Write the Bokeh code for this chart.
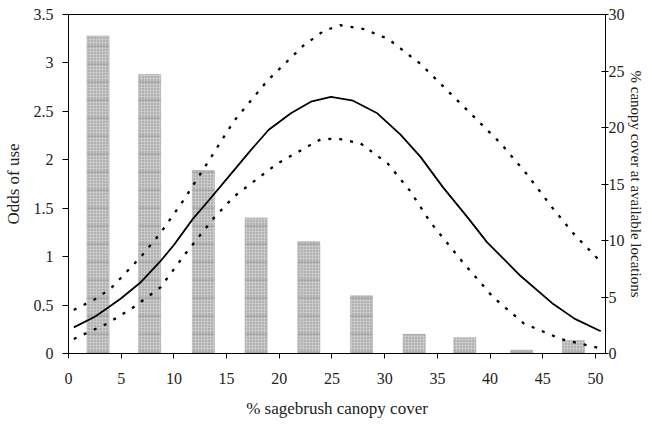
from bokeh.plotting import figure
from bokeh.models import Range1d, LinearAxis, FixedTicker
from bokeh.embed import file_html
from bokeh.resources import INLINE

# ---- data ----
bin_mid = [2.8, 7.7, 12.8, 17.8, 22.8, 27.8, 32.8, 37.6, 43.0, 47.9]
canopy_pct = [28.1, 24.7, 16.2, 12.0, 9.9, 5.1, 1.7, 1.4, 0.3, 1.15]

fit_x = [0.5, 2.5, 3.7, 5.0, 6.8, 8.7, 10.0, 11.8, 13.3, 15.0, 17.3, 19.0, 21.1,
         23.0, 24.9, 27.0, 29.3, 31.5, 33.4, 35.5, 37.9, 39.7, 42.9, 46.0, 48.0, 50.5]
fit_odds = [0.27, 0.38, 0.47, 0.57, 0.73, 0.95, 1.12, 1.39, 1.58, 1.80, 2.10, 2.31, 2.48,
            2.60, 2.65, 2.61, 2.48, 2.26, 2.03, 1.72, 1.40, 1.15, 0.80, 0.51, 0.36, 0.23]

upper_x = [0.5, 2.5, 4.0, 6.8, 8.7, 10.9, 12.9, 15.7, 18.9, 22.3, 24.2, 25.8, 28.0,
           30.3, 33.4, 37.2, 41.0, 43.5, 45.8, 47.9, 50.2]
upper_odds = [0.45, 0.56, 0.67, 0.99, 1.24, 1.58, 1.92, 2.40, 2.82, 3.18, 3.33, 3.39, 3.35,
              3.25, 2.99, 2.58, 2.17, 1.85, 1.52, 1.24, 0.98]

lower_x = [0.5, 3.7, 6.2, 8.7, 11.3, 13.8, 15.7, 19.8, 23.9, 25.5, 27.7, 30.3, 32.4,
           34.3, 37.5, 40.3, 43.2, 46.7, 50.2]
lower_odds = [0.15, 0.31, 0.48, 0.68, 1.06, 1.40, 1.62, 1.96, 2.21, 2.22, 2.17, 1.96, 1.68,
              1.36, 0.93, 0.58, 0.31, 0.15, 0.06]

x_ticks = [0, 5, 10, 15, 20, 25, 30, 35, 40, 45, 50]
odds_ticks = [0, 0.5, 1, 1.5, 2, 2.5, 3, 3.5]
odds_labels = ["0", "0.5", "1", "1.5", "2", "2.5", "3", "3.5"]
pct_ticks = [0, 5, 10, 15, 20, 25, 30]

FONT = "Liberation Serif"

p = figure(width=652, height=428, output_backend="svg", toolbar_location=None,
           x_range=Range1d(0, 50.95), y_range=Range1d(0, 3.5),
           min_border_left=68, min_border_right=47, min_border_top=14, min_border_bottom=75)
p.extra_y_ranges = {"pct": Range1d(0, 30)}
p.xgrid.visible = False
p.ygrid.visible = False
p.outline_line_color = "black"
p.outline_line_width = 1
p.background_fill_color = "white"
p.border_fill_color = "white"

# bars (right axis)
p.vbar(x=bin_mid, top=canopy_pct, width=2.1, y_range_name="pct",
       fill_color="#cacaca", line_color="#b0b0b0", line_width=0.6,
       hatch_pattern="dot", hatch_color="#8a8a8a", hatch_scale=3, hatch_weight=1.3)
p.vbar(x=bin_mid, top=canopy_pct, width=2.1, y_range_name="pct",
       fill_alpha=0, line_alpha=0,
       hatch_pattern="horizontal_line", hatch_color="#8e8e8e", hatch_scale=18, hatch_weight=0.8)

# curves (left axis)
p.line(fit_x, fit_odds, line_color="black", line_width=1.8)
p.line(upper_x, upper_odds, line_color="black", line_width=2.3, line_dash="3 8")
p.line(lower_x, lower_odds, line_color="black", line_width=2.3, line_dash="3 8")

def style(ax, tick_size="16px", label_size="17px"):
    ax.axis_line_color = "black"
    ax.major_tick_line_color = "black"
    ax.minor_tick_line_color = None
    ax.major_label_text_font = FONT
    ax.major_label_text_font_size = tick_size
    ax.major_label_text_color = "#222222"
    ax.axis_label_text_font = FONT
    ax.axis_label_text_font_size = label_size
    ax.axis_label_text_font_style = "normal"
    ax.axis_label_text_color = "#222222"

xa = p.xaxis[0]
style(xa)
xa.ticker = FixedTicker(ticks=x_ticks)
xa.major_tick_in = 0
xa.major_tick_out = 5
xa.major_label_standoff = 14
xa.axis_label = "% sagebrush canopy cover"
xa.axis_label_standoff = 12

ya = p.yaxis[0]
style(ya)
ya.ticker = FixedTicker(ticks=odds_ticks)
ya.major_label_overrides = {t: l for t, l in zip(odds_ticks, odds_labels)}
ya.major_tick_in = 0
ya.major_tick_out = 6
ya.major_label_standoff = 9
ya.axis_label = "Odds of use"
ya.axis_label_standoff = 8

ra = LinearAxis(y_range_name="pct")
style(ra, "16px", "15px")
ra.ticker = FixedTicker(ticks=pct_ticks)
ra.major_tick_in = 4
ra.major_tick_out = 3
ra.major_label_standoff = 0
ra.axis_label = "% canopy cover at available locations"
ra.axis_label_standoff = 0
p.add_layout(ra, "right")

open("out.html", "w").write(file_html(p, INLINE))
